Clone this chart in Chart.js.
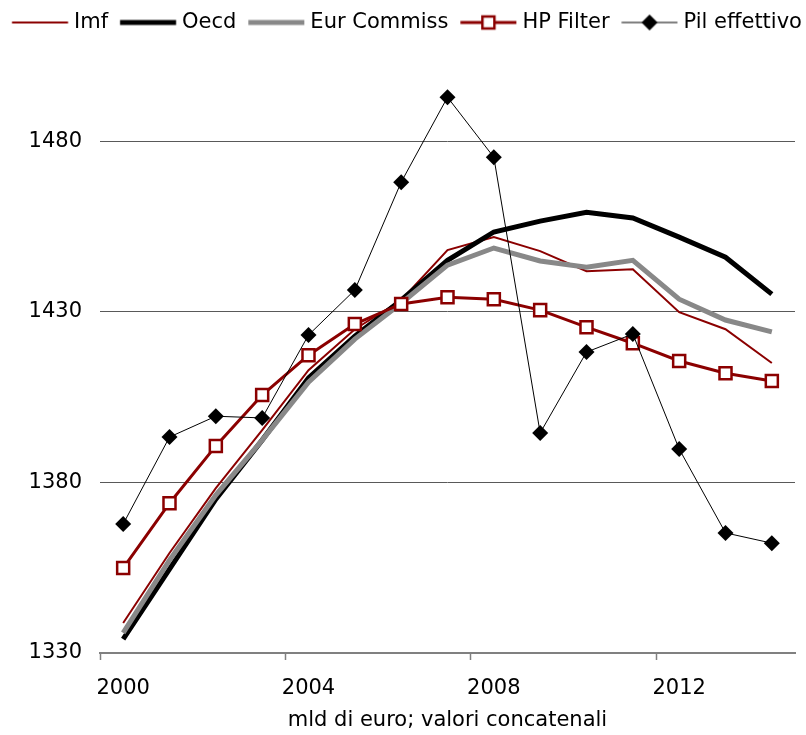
<!DOCTYPE html>
<html><head><meta charset="utf-8">
<script src="https://cdn.jsdelivr.net/npm/chart.js@4/dist/chart.umd.min.js"></script>
<style>html,body{margin:0;padding:0;background:#fff}#wrap{width:806px;height:735px}</style>
</head><body><div id="wrap"><canvas id="c" width="806" height="735"></canvas></div>
<script>
const categories = ['2000','2001','2002','2003','2004','2005','2006','2007','2008','2009','2010','2011','2012','2013','2014'];
const xTickLabels = ['2000','2004','2008','2012'];
const yTickValues = [1330, 1380, 1430, 1480];
const seriesNames = ['Imf', 'Oecd', 'Eur Commiss', 'HP Filter', 'Pil effettivo'];
const imf = [1338.8,1359.3,1378.3,1395.3,1412.9,1424.9,1433.4,1448.1,1451.9,1447.8,1441.9,1442.5,1429.9,1424.9,1415.0];
const oecd = [1334.1,1354.6,1375.1,1392.4,1410.6,1422.9,1433.4,1445.1,1453.4,1456.6,1459.2,1457.5,1451.9,1446.0,1435.2];
const eurCommiss = [1335.9,1357.2,1376.3,1392.4,1409.4,1422.0,1432.5,1443.7,1448.7,1444.9,1443.1,1445.1,1433.7,1427.6,1424.1];
const hpFilter = [1354.9,1373.9,1390.7,1405.6,1417.3,1426.4,1432.3,1434.3,1433.7,1430.5,1425.5,1420.8,1415.6,1412.0,1409.7];
const pilEffettivo = [1367.8,1393.3,1399.4,1398.9,1423.2,1436.4,1468.0,1492.9,1475.3,1394.5,1418.2,1423.5,1389.8,1365.2,1362.2];

const FONT = "'DejaVu Sans', Verdana, sans-serif";
const FS = 21;
const DARKRED = '#8B0000';
Chart.defaults.font.family = FONT;
Chart.defaults.color = '#000';

function makeIcon(color, lw, marker) {
  const c = document.createElement('canvas');
  c.width = 72; c.height = 22;
  const g = c.getContext('2d');
  const x1 = 15.25, x2 = 71.25, y = 11;
  g.strokeStyle = color; g.lineWidth = lw;
  g.beginPath(); g.moveTo(x1, y); g.lineTo(x2, y); g.stroke();
  const cx = (x1 + x2) / 2;
  if (marker === 'square') {
    g.fillStyle = '#fff'; g.strokeStyle = DARKRED; g.lineWidth = 2.5;
    g.fillRect(cx - 6, y - 6, 12, 12); g.strokeRect(cx - 6, y - 6, 12, 12);
  } else if (marker === 'diamond') {
    g.fillStyle = '#000';
    g.beginPath(); g.moveTo(cx, y - 8); g.lineTo(cx + 8, y); g.lineTo(cx, y + 8); g.lineTo(cx - 8, y); g.closePath(); g.fill();
  }
  return c;
}
const icons = [
  makeIcon(DARKRED, 2, null),
  makeIcon('#000', 5, null),
  makeIcon('#888888', 5, null),
  makeIcon(DARKRED, 3, 'square'),
  makeIcon('#000', 1, 'diamond')
];

const fixLayout = {
  id: 'fixLayout',
  afterInit(chart) {
    const lg = chart.legend;
    if (lg) {
      const f = lg.fit.bind(lg);
      lg.fit = function () { this.maxWidth = 900; f(); this.height = 63; };
      const d = lg.draw.bind(lg);
      lg.draw = function () { const r = this.right; this.right = 900; d(); this.right = r; };
    }
  }
};

const ctx = document.getElementById('c');
new Chart(ctx, {
  type: 'line',
  data: {
    labels: categories,
    datasets: [
      { label: seriesNames[0], data: imf, borderColor: DARKRED, borderWidth: 2, pointRadius: 0, tension: 0, order: 5 },
      { label: seriesNames[1], data: oecd, borderColor: '#000', borderWidth: 5, pointRadius: 0, tension: 0, order: 4 },
      { label: seriesNames[2], data: eurCommiss, borderColor: '#888888', borderWidth: 5, pointRadius: 0, tension: 0, order: 3 },
      { label: seriesNames[3], data: hpFilter, borderColor: DARKRED, borderWidth: 3, pointStyle: 'rect', pointRadius: 8.5, pointBorderWidth: 2.5, pointBackgroundColor: '#fff', pointBorderColor: DARKRED, tension: 0, order: 2 },
      { label: seriesNames[4], data: pilEffettivo, borderColor: '#000', borderWidth: 1, pointStyle: 'rectRot', pointRadius: 8, pointBorderWidth: 0, pointBackgroundColor: '#000', pointBorderColor: '#000', tension: 0, order: 1 }
    ]
  },
  options: {
    responsive: false,
    animation: false,
    devicePixelRatio: 1,
    layout: { padding: { left: 0, right: 11, top: 10, bottom: 0 } },
    plugins: {
      tooltip: { enabled: false },
      legend: {
        position: 'top',
        align: 'start',
        labels: {
          usePointStyle: true,
          pointStyleWidth: 61.5,
          padding: 2,
          color: '#000',
          font: { family: FONT, size: FS },
          generateLabels(chart) {
            return chart.data.datasets.map((ds, i) => ({
              text: ds.label, pointStyle: icons[i], fillStyle: 'rgba(0,0,0,0)',
              strokeStyle: 'rgba(0,0,0,0)', lineWidth: 0, hidden: false, datasetIndex: i, fontColor: '#000'
            }));
          }
        }
      }
    },
    scales: {
      x: {
        type: 'category',
        offset: true,
        grid: {
          offset: true, drawOnChartArea: false, drawTicks: true, tickLength: 7, tickWidth: 1.5,
          tickColor: (c) => (c.index !== undefined && c.index % 4 === 0) ? '#808080' : 'rgba(0,0,0,0)',
          color: 'rgba(0,0,0,0)'
        },
        border: { display: true, color: '#808080', width: 2 },
        ticks: {
          autoSkip: false, maxRotation: 0, padding: 16, color: '#000', font: { family: FONT, size: FS },
          callback(v) { const l = this.getLabelForValue(v); return xTickLabels.includes(l) ? l : ''; }
        },
        title: { display: true, text: 'mld di euro; valori concatenali', color: '#000', font: { family: FONT, size: FS }, padding: { top: 4, bottom: 2 } },
        afterFit(s) { s.height = 82; }
      },
      y: {
        min: 1330, max: 1500,
        afterBuildTicks(s) { s.ticks = yTickValues.map(v => ({ value: v })); },
        grid: {
          drawTicks: false, lineWidth: 1,
          color: (c) => (c.tick && c.tick.value === 1330) ? 'rgba(0,0,0,0)' : '#595959'
        },
        border: { display: false },
        ticks: { padding: 18, color: '#000', font: { family: FONT, size: FS }, callback: (v) => String(v) },
        afterFit(s) { s.width = 100; }
      }
    }
  },
  plugins: [fixLayout]
});
</script>
</body></html>
